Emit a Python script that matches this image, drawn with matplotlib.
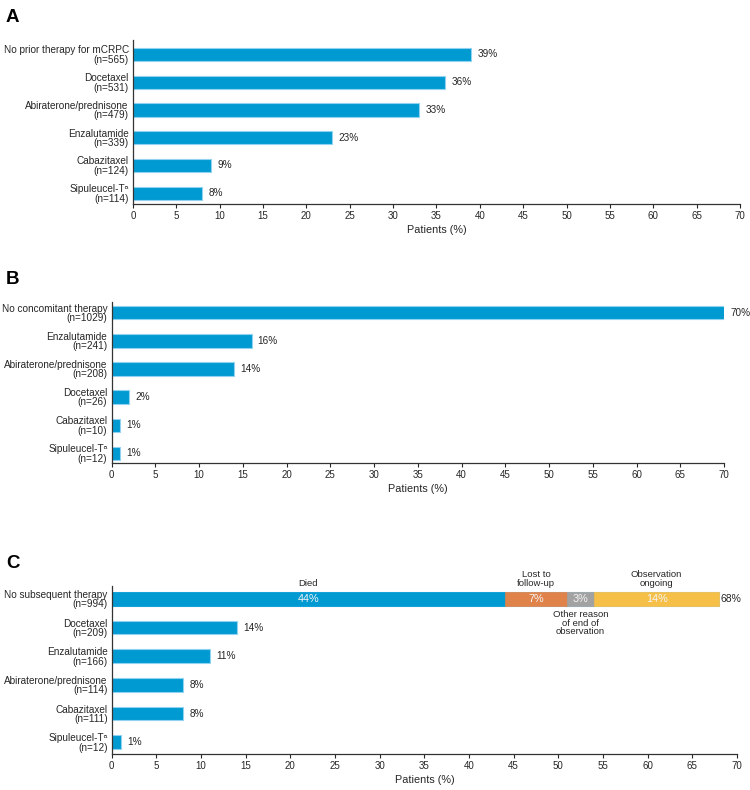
import matplotlib
matplotlib.use("Agg")
import matplotlib.pyplot as plt

plt.rcParams["font.family"] = ["Liberation Sans", "DejaVu Sans"]

SUP = "Sipuleucel-T\u1d43"

# panel A: prior therapy
a_cats = ["No prior therapy for mCRPC", "Docetaxel", "Abiraterone/prednisone",
          "Enzalutamide", "Cabazitaxel", SUP]
a_n = [565, 531, 479, 339, 124, 114]
a_vals = [39, 36, 33, 23, 9, 8]

# panel B: concomitant therapy
b_cats = ["No concomitant therapy", "Enzalutamide", "Abiraterone/prednisone",
          "Docetaxel", "Cabazitaxel", SUP]
b_n = [1029, 241, 208, 26, 10, 12]
b_vals = [70, 16, 14, 2, 1, 1]

# panel C: subsequent therapy
c_cats = ["No subsequent therapy", "Docetaxel", "Enzalutamide",
          "Abiraterone/prednisone", "Cabazitaxel", SUP]
c_n = [994, 209, 166, 114, 111, 12]
c_vals = [68, 14, 11, 8, 8, 1]

# breakdown of the "no subsequent therapy" bar
seg_names = ["Died", "Lost to\nfollow-up", "Other reason\nof end of\nobservation",
             "Observation\nongoing"]
seg_vals = [44, 7, 3, 14]
seg_colors = ["#009ad2", "#df834b", "#a2a2a2", "#f5bf48"]
seg_above = [True, True, False, True]

BLUE = "#009ad2"
EDGE = "#8fd3f0"
TXT = "#262626"

fig = plt.figure(figsize=(7.5, 7.9), dpi=100)


def panel(rect, cats, ns, vals, ylim, letter, letter_y, skip_first=False):
    ax = fig.add_axes(rect)
    ypos = list(range(len(cats)))
    ax.barh(ypos, vals, height=0.48, color=BLUE, edgecolor=EDGE, linewidth=0.8)
    for y, v in zip(ypos, vals):
        if skip_first and y == 0:
            continue
        ax.text(v + 0.7, y, f"{v}%", va="center", ha="left", fontsize=7.2, color=TXT)
    ax.set_yticks(ypos)
    ax.set_yticklabels([f"{c}\n(n={n})" for c, n in zip(cats, ns)], fontsize=7.2, color=TXT)
    for t in ax.get_yticklabels():
        t.set_linespacing(0.92)
    ax.tick_params(axis="y", length=0, pad=3)
    ax.tick_params(axis="x", length=3, width=0.8, labelsize=7, colors=TXT, pad=2)
    ax.set_xlim(0, 70)
    ax.set_xticks(range(0, 71, 5))
    ax.set_ylim(*ylim)
    for s in ("top", "right"):
        ax.spines[s].set_visible(False)
    for s in ("left", "bottom"):
        ax.spines[s].set_color("#333333")
        ax.spines[s].set_linewidth(0.9)
    ax.set_xlabel("Patients (%)", fontsize=7.8, color=TXT, labelpad=3)
    fig.text(0.008, letter_y, letter, fontsize=13.5, fontweight="bold", va="center")
    return ax


panel([0.1773, 0.7418, 0.8094, 0.2082], a_cats, a_n, a_vals, (5.39, -0.54), "A", 1 - 18 / 790)
panel([0.1487, 0.4143, 0.8167, 0.2038], b_cats, b_n, b_vals, (5.33, -0.39), "B", 1 - 280 / 790)
ax = panel([0.1489, 0.0456, 0.8338, 0.2126], c_cats, c_n, c_vals, (5.41, -0.45), "C", 1 - 563 / 790,
           skip_first=True)

# stacked first bar of panel C
left = 0
for name, v, col, above in zip(seg_names, seg_vals, seg_colors, seg_above):
    ax.barh(0, v, left=left, height=0.48, color=col, edgecolor=col, linewidth=0.5)
    mid = left + v / 2
    ax.text(mid, 0, f"{v}%", ha="center", va="center", fontsize=7.8, color="#f4f4f4")
    if above:
        ax.annotate(name, (mid, -0.24), xytext=(0, 3), textcoords="offset points",
                    ha="center", va="bottom", fontsize=6.8, color=TXT, linespacing=0.95)
    else:
        ax.annotate(name, (mid, 0.24), xytext=(0, -3), textcoords="offset points",
                    ha="center", va="top", fontsize=6.8, color=TXT, linespacing=0.95)
    left += v
ax.text(left + 0.15, 0, f"{c_vals[0]}%", ha="left", va="center", fontsize=7.5, color=TXT)

fig.savefig("out.png", dpi=100)
print("wrote out.png")
